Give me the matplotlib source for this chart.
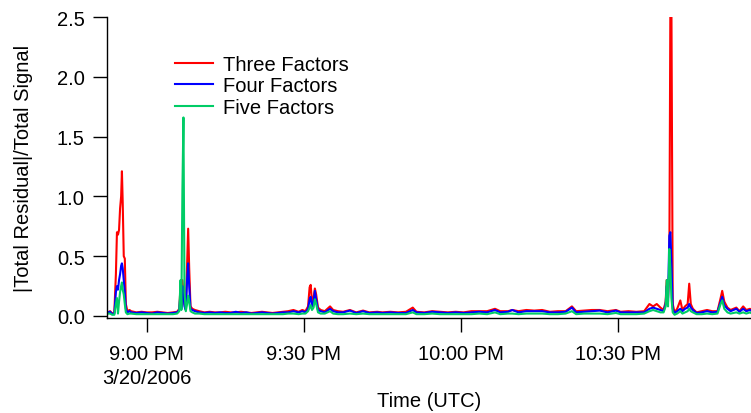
import numpy as np
import matplotlib
matplotlib.use("Agg")
import matplotlib.pyplot as plt

# Minutes after 9:00 PM (UTC), 3/20/2006
minutes = [
    -7.5, -7.0, -6.6, -6.2, -5.9, -5.7, -5.5, -5.3, -5.1, -4.9, -4.75, -4.6, -4.4, -4.2, -4.0, -3.7, -3.3,
    -3.0, -2.0, -1.0, 0.0, 1.0, 2.0, 3.0, 4.0, 5.0, 5.8,
    6.2, 6.45, 6.6, 6.8, 7.0, 7.2, 7.45, 7.7, 7.9, 8.1, 8.35, 8.7, 9.2,
    10, 11, 12, 13, 14, 15, 16, 17, 18, 19, 20, 21, 22, 23, 24, 25, 26, 27, 28, 29, 29.7, 30.3,
    30.8, 31.1, 31.3, 31.55, 31.85, 32.1, 32.35, 32.7, 33.2, 34.0, 35.0, 35.6, 36.5, 37.5, 38.8,
    40, 41.3, 42.5, 44, 45, 46.5, 48, 49.5, 50.8, 51.5, 53, 54.5, 56, 57.5, 59, 60.5, 62, 63.5,
    65, 66.5, 67.5, 69, 69.8, 71, 72.5, 74, 75.5, 77, 78.5, 80, 81.2, 82, 83.5, 85, 86.5, 88,
    89.6, 90.5, 92, 93.5, 95, 96.0, 96.7, 97.4, 98.1, 98.7,
    99.1, 99.3, 99.55, 99.8, 100.0, 100.2, 100.45, 100.8, 101.3, 101.9, 102.3, 102.8, 103.3,
    103.6, 103.9, 104.3, 105, 106, 107, 108, 109, 109.6, 109.9, 110.3, 110.9, 111.5, 112.6,
    113.2, 113.9, 114.5, 115.2, 115.6,
]

three_factors = [
    0.03, 0.04, 0.02, 0.03, 0.35, 0.70, 0.68, 0.72, 0.90, 1.00, 1.21, 0.95, 0.50, 0.48, 0.10, 0.04, 0.05,
    0.04, 0.03, 0.035, 0.03, 0.03, 0.035, 0.03, 0.025, 0.03, 0.035,
    0.06, 0.25, 0.08, 0.30, 0.20, 0.10, 0.06, 0.45, 0.73, 0.40, 0.08, 0.06, 0.05,
    0.04, 0.03, 0.035, 0.03, 0.03, 0.035, 0.03, 0.03, 0.035, 0.03, 0.025, 0.03, 0.035, 0.03, 0.025,
    0.03, 0.035, 0.04, 0.05, 0.035, 0.05, 0.04,
    0.08, 0.24, 0.26, 0.12, 0.15, 0.23, 0.18, 0.07, 0.05, 0.04, 0.08, 0.05, 0.04, 0.035, 0.05,
    0.03, 0.045, 0.03, 0.035, 0.03, 0.035, 0.03, 0.035, 0.07, 0.035, 0.03, 0.04, 0.035, 0.03, 0.035,
    0.03, 0.04, 0.04,
    0.04, 0.06, 0.04, 0.04, 0.05, 0.04, 0.05, 0.045, 0.05, 0.035, 0.04, 0.04, 0.08, 0.04, 0.045,
    0.05, 0.05, 0.04,
    0.05, 0.035, 0.04, 0.035, 0.04, 0.10, 0.08, 0.10, 0.07, 0.05,
    0.12, 0.30, 0.15, 0.40, 2.60, 2.60, 0.10, 0.03, 0.06, 0.13, 0.05, 0.08, 0.10,
    0.27, 0.10, 0.06, 0.03, 0.04, 0.05, 0.04, 0.04, 0.15, 0.21, 0.12, 0.07, 0.05, 0.07,
    0.04, 0.08, 0.05, 0.06, 0.05,
]

four_factors = [
    0.03, 0.035, 0.015, 0.02, 0.20, 0.25, 0.22, 0.30, 0.35, 0.42, 0.44, 0.40, 0.30, 0.20, 0.06, 0.03, 0.04,
    0.03, 0.025, 0.03, 0.025, 0.02, 0.03, 0.025, 0.02, 0.025, 0.03,
    0.05, 0.20, 0.06, 0.25, 0.18, 0.08, 0.05, 0.30, 0.44, 0.25, 0.06, 0.05, 0.04,
    0.03, 0.025, 0.03, 0.025, 0.03, 0.025, 0.025, 0.035, 0.025, 0.03, 0.02, 0.025, 0.03, 0.025, 0.02,
    0.025, 0.03, 0.03, 0.04, 0.03, 0.04, 0.03,
    0.06, 0.14, 0.16, 0.08, 0.12, 0.21, 0.14, 0.05, 0.04, 0.03, 0.06, 0.04, 0.03, 0.03, 0.045,
    0.025, 0.04, 0.025, 0.03, 0.025, 0.03, 0.025, 0.025, 0.05, 0.03, 0.025, 0.035, 0.03, 0.025, 0.03,
    0.025, 0.03, 0.035,
    0.03, 0.05, 0.03, 0.035, 0.05, 0.03, 0.04, 0.04, 0.04, 0.03, 0.03, 0.035, 0.07, 0.03, 0.035,
    0.04, 0.045, 0.03,
    0.045, 0.03, 0.03, 0.03, 0.03, 0.06, 0.07, 0.06, 0.05, 0.04,
    0.10, 0.25, 0.12, 0.67, 0.70, 0.45, 0.06, 0.025, 0.04, 0.06, 0.04, 0.06, 0.07,
    0.10, 0.07, 0.05, 0.025, 0.03, 0.04, 0.03, 0.035, 0.12, 0.16, 0.09, 0.06, 0.04, 0.06,
    0.035, 0.06, 0.04, 0.05, 0.04,
]

five_factors = [
    0.02, 0.02, 0.01, 0.01, 0.10, 0.15, 0.02, 0.12, 0.20, 0.25, 0.28, 0.22, 0.18, 0.10, 0.03, 0.015, 0.02,
    0.02, 0.015, 0.015, 0.015, 0.015, 0.015, 0.015, 0.015, 0.015, 0.02,
    0.04, 0.30, 0.05, 1.05, 1.66, 0.20, 0.04, 0.10, 0.17, 0.12, 0.04, 0.03, 0.02,
    0.02, 0.015, 0.015, 0.015, 0.015, 0.015, 0.015, 0.015, 0.015, 0.015, 0.015, 0.015, 0.015, 0.015,
    0.015, 0.015, 0.015, 0.02, 0.02, 0.015, 0.02, 0.02,
    0.04, 0.07, 0.09, 0.05, 0.07, 0.14, 0.10, 0.03, 0.02, 0.02, 0.04, 0.02, 0.015, 0.015, 0.02,
    0.015, 0.02, 0.015, 0.015, 0.015, 0.015, 0.015, 0.015, 0.03, 0.015, 0.015, 0.02, 0.015, 0.015,
    0.015, 0.015, 0.015, 0.02,
    0.015, 0.03, 0.015, 0.02, 0.02, 0.015, 0.02, 0.02, 0.02, 0.015, 0.015, 0.02, 0.04, 0.015, 0.02,
    0.02, 0.02, 0.015,
    0.025, 0.015, 0.015, 0.015, 0.02, 0.04, 0.05, 0.04, 0.03, 0.03,
    0.08, 0.30, 0.08, 0.56, 0.40, 0.15, 0.03, 0.01, 0.02, 0.04, 0.02, 0.03, 0.04,
    0.06, 0.04, 0.03, 0.015, 0.015, 0.02, 0.015, 0.02, 0.10, 0.13, 0.06, 0.03, 0.02, 0.03,
    0.02, 0.03, 0.02, 0.03, 0.02,
]

tick_minutes = [0, 30, 60, 90]
tick_labels = ["9:00 PM\n3/20/2006", "9:30 PM", "10:00 PM", "10:30 PM"]

series = [
    ("Three Factors", three_factors, "#ff0000"),
    ("Four Factors", four_factors, "#0000ff"),
    ("Five Factors", five_factors, "#00cc66"),
]

plt.rcParams["font.family"] = ["Liberation Sans", "DejaVu Sans"]
font_size = 14.5

fig = plt.figure(figsize=(7.51, 4.14), dpi=100)
ax = fig.add_axes([107 / 751, 95 / 414, 644 / 751, 301 / 414])

t = np.array(minutes)
for name, values, color in series:
    ax.plot(t, values, color=color, linewidth=1.5, label=name)

ax.set_xlim(-7.6, 115.4)
ax.set_ylim(-0.017, 2.5)
ax.set_yticks([0.0, 0.5, 1.0, 1.5, 2.0, 2.5])
ax.set_yticklabels(["0.0", "0.5", "1.0", "1.5", "2.0", "2.5"])
ax.set_xticks(tick_minutes)
ax.set_xticklabels(tick_labels, linespacing=1.3)

for side in ("top", "right"):
    ax.spines[side].set_visible(False)
for side in ("left", "bottom"):
    ax.spines[side].set_linewidth(1.0)

ax.tick_params(axis="both", direction="out", length=10, width=1.0,
               labelsize=font_size)
ax.tick_params(axis="x", pad=9)
ax.tick_params(axis="y", pad=6)

ax.set_xlabel("Time (UTC)", fontsize=font_size, labelpad=3)
ax.set_ylabel("|Total Residual|/Total Signal", fontsize=font_size, labelpad=17)

ax.legend(loc="upper left", bbox_to_anchor=(175 / 751, 1 - 56 / 414),
          bbox_transform=fig.transFigure, frameon=False, fontsize=font_size,
          handlelength=1.9, handletextpad=0.5, labelspacing=0.12,
          borderpad=0, borderaxespad=0)

fig.savefig("out.png", dpi=100)
